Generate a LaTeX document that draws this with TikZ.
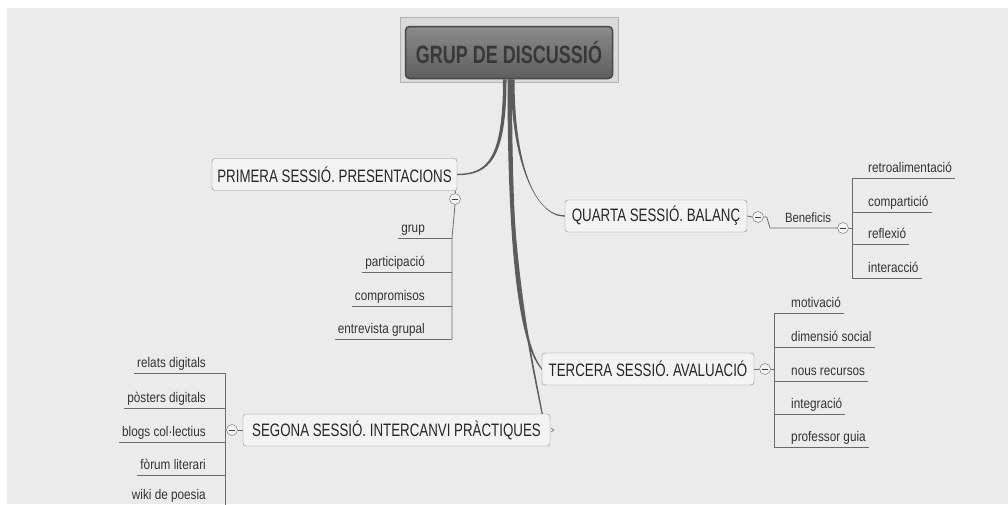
\documentclass[tikz,border=0pt]{standalone}
\usepackage{fontspec}
\setmainfont{Liberation Sans}[FakeStretch=0.84]
\newfontfamily\topicfont{Liberation Sans}[FakeStretch=0.74]
\newfontfamily\rootfont{Liberation Sans}[FakeStretch=0.72]

\definecolor{bggray}{HTML}{EBEBEB}
\definecolor{framegray}{HTML}{D9D9D9}
\definecolor{rootborder}{HTML}{474747}
\definecolor{roottop}{HTML}{8A8A8A}
\definecolor{rootbottom}{HTML}{5E5E5E}
\definecolor{topicfill}{HTML}{F3F3F3}
\definecolor{topicborder}{HTML}{8A8A8A}
\definecolor{linkgray}{HTML}{5C5C5C}
\definecolor{leafgray}{HTML}{6A6A6A}

\begin{document}
\begin{tikzpicture}[x=1pt, y=-1pt]

    \tikzset{topicstyle/.style={draw=topicborder, fill=topicfill, rounded corners=3pt, minimum height=32pt, inner xsep=3pt, font=\topicfont\fontsize{18}{20}\selectfont, text=black!85}}
    \tikzset{leafstyle/.style={inner xsep=3pt, inner ysep=5pt, text height=10pt, text depth=0pt, font=\fontsize{14}{16}\selectfont, text=black!80}}
    \tikzset{foldstyle/.style={draw=leafgray, fill=topicfill, circle, minimum size=11pt, inner sep=0pt,
        path picture={\draw[black!75, line width=0.8pt] ([xshift=-3pt]path picture bounding box.center) -- ([xshift=3pt]path picture bounding box.center);}}}
    \tikzset{leafline/.style={draw=leafgray, line width=0.8pt}}
    \tikzset{branchlink/.style={fill=linkgray}}

    \clip (0,0) rectangle (1008,504);
    \useasboundingbox (0,0) rectangle (1008,504);
    \fill[white] (0,0) rectangle (1008,504);
    \fill[bggray] (7,8) rectangle (1008,504);

    % central topic
    \node[draw=gray!60, fill=framegray, minimum width=218pt, minimum height=65pt] (frame) at (509,49.5) {};
    \node[draw=rootborder, line width=1.5pt, top color=roottop, bottom color=rootbottom, rounded corners=4pt,
        minimum width=207pt, minimum height=52pt, font=\rootfont\bfseries\fontsize{25}{27}\selectfont, text=black!78] (root) at (509,52.5) {GRUP DE DISCUSSIÓ};

    % main topics
    \node[topicstyle, minimum width=245pt] (prim) at (334.5,174.5) {PRIMERA SESSIÓ. PRESENTACIONS};
    \node[topicstyle, minimum width=182pt] (quar) at (656,216) {QUARTA SESSIÓ. BALANÇ};
    \node[topicstyle, minimum width=212pt] (terc) at (648,369) {TERCERA SESSIÓ. AVALUACIÓ};
    \node[topicstyle, minimum width=307pt] (seg) at (396.5,430) {SEGONA SESSIÓ. INTERCANVI PRÀCTIQUES};

    % links from the central topic
    \fill[branchlink] ([xshift=-6pt]root.south) .. controls +(0,80) and +(30,0) .. ([yshift=0.7pt]prim.east)
        -- ([yshift=-0.7pt]prim.east) .. controls +(32,0) and +(0,80) .. ([xshift=-2.5pt]root.south) -- cycle;
    \fill[branchlink] ([xshift=2pt]root.south) .. controls +(0,80) and +(-30,0) .. ([yshift=-0.7pt]quar.west)
        -- ([yshift=0.7pt]quar.west) .. controls +(-32,0) and +(0,80) .. ([xshift=5.5pt]root.south) -- cycle;
    \fill[branchlink] ([xshift=-1.5pt]root.south) .. controls +(0,195) and +(-20,-22) .. ([yshift=-0.8pt]terc.west)
        -- ([yshift=0.8pt]terc.west) .. controls +(-18,-24) and +(0,195) .. ([xshift=3pt]root.south) -- cycle;
    \fill[branchlink] ([xshift=-1pt]root.south) .. controls +(0,185) and +(-10,-50) .. ([xshift=-8.6pt]seg.north east)
        -- ([xshift=-7.4pt]seg.north east) .. controls +(-9,-50) and +(0,185) .. ([xshift=0.5pt]root.south) -- cycle;
    \draw[leafgray, line width=0.6pt] ([xshift=1pt, yshift=2pt]seg.east) -- ([xshift=3.5pt]seg.east) -- ([xshift=1pt, yshift=-2pt]seg.east);

    % fold buttons
    \node[foldstyle] (primfold) at (455,199) {};
    \node[foldstyle] (quarfold) at (758,217) {};
    \node[foldstyle] (benefold) at (843,228) {};
    \node[foldstyle] (tercfold) at (765,369) {};
    \node[foldstyle] (segfold) at (232,430) {};

    % primera sessio
    \coordinate (ptop) at (452,238);
    \coordinate (pbot) at (452,339);
    \draw[leafline] (primfold.north) -- (primfold.north |- prim.south);
    \draw[leafline] (primfold.south) -- (ptop) -- (pbot);
    \node[leafstyle, anchor=south east] (pgrup) at (428,238) {grup};
    \node[leafstyle, anchor=south east] (ppart) at (428,272) {participació};
    \node[leafstyle, anchor=south east] (pcomp) at (428,306) {compromisos};
    \node[leafstyle, anchor=south east] (pentr) at (428,339) {entrevista grupal};
    \draw[leafline] (pgrup.south west) -- (pgrup.south west -| pbot);
    \draw[leafline] (ppart.south west) -- (ppart.south west -| pbot);
    \draw[leafline] (pcomp.south west) -- (pcomp.south west -| pbot);
    \draw[leafline] (pentr.south west) -- (pentr.south west -| pbot);

    % quarta sessio
    \coordinate (bstart) at (770,228);
    \draw[leafline] (quar.east) -- (quarfold.west);
    \draw[leafline] (quarfold.east) -- ++(3,0) -- (bstart) -- (benefold.west);
    \node[leafstyle, anchor=south, font=\fontsize{13.5}{15}\selectfont] (bene) at (808,228) {Beneficis};
    \coordinate (btop) at (852,178);
    \coordinate (bbot) at (852,278);
    \draw[leafline] (btop) -- (bbot);
    \draw[leafline] (benefold.east) -- (benefold.east -| btop);
    \node[leafstyle, anchor=south west] (bretr) at (865,178) {retroalimentació};
    \node[leafstyle, anchor=south west] (bcomp) at (865,212) {compartició};
    \node[leafstyle, anchor=south west] (brefl) at (865,244) {reflexió};
    \node[leafstyle, anchor=south west] (binte) at (865,278) {interacció};
    \draw[leafline] (bretr.south east) -- (bretr.south east -| btop);
    \draw[leafline] (bcomp.south east) -- (bcomp.south east -| btop);
    \draw[leafline] (brefl.south east) -- (brefl.south east -| btop);
    \draw[leafline] (binte.south east) -- (binte.south east -| btop);

    % tercera sessio
    \coordinate (ttop) at (774,313);
    \coordinate (tbot) at (774,447);
    \draw[leafline] (terc.east) -- (tercfold.west);
    \draw[leafline] (ttop) -- (tbot);
    \draw[leafline] (tercfold.east) -- (tercfold.east -| ttop);
    \node[leafstyle, anchor=south west] (tmoti) at (788,313) {motivació};
    \node[leafstyle, anchor=south west] (tdime) at (788,347) {dimensió social};
    \node[leafstyle, anchor=south west] (tnous) at (788,381) {nous recursos};
    \node[leafstyle, anchor=south west] (tinte) at (788,414) {integració};
    \node[leafstyle, anchor=south west] (tprof) at (788,447) {professor guia};
    \draw[leafline] (tmoti.south east) -- (tmoti.south east -| ttop);
    \draw[leafline] (tdime.south east) -- (tdime.south east -| ttop);
    \draw[leafline] (tnous.south east) -- (tnous.south east -| ttop);
    \draw[leafline] (tinte.south east) -- (tinte.south east -| ttop);
    \draw[leafline] (tprof.south east) -- (tprof.south east -| ttop);

    % segona sessio
    \coordinate (stop) at (225,373);
    \coordinate (sbot) at (225,509);
    \draw[leafline] (seg.west) -- (segfold.east);
    \draw[leafline] (stop) -- (sbot);
    \draw[leafline] (segfold.west) -- (segfold.west -| stop);
    \node[leafstyle, anchor=south east] (srela) at (209,373) {relats digitals};
    \node[leafstyle, anchor=south east] (spost) at (209,408) {pòsters digitals};
    \node[leafstyle, anchor=south east] (sblog) at (209,442) {blogs col·lectius};
    \node[leafstyle, anchor=south east] (sforu) at (209,475) {fòrum literari};
    \node[leafstyle, anchor=south east] (swiki) at (209,505) {wiki de poesia};
    \draw[leafline] (srela.south west) -- (srela.south west -| stop);
    \draw[leafline] (spost.south west) -- (spost.south west -| stop);
    \draw[leafline] (sblog.south west) -- (sblog.south west -| stop);
    \draw[leafline] (sforu.south west) -- (sforu.south west -| stop);
    \draw[leafline] (swiki.south west) -- (swiki.south west -| stop);
\end{tikzpicture}
\end{document}
